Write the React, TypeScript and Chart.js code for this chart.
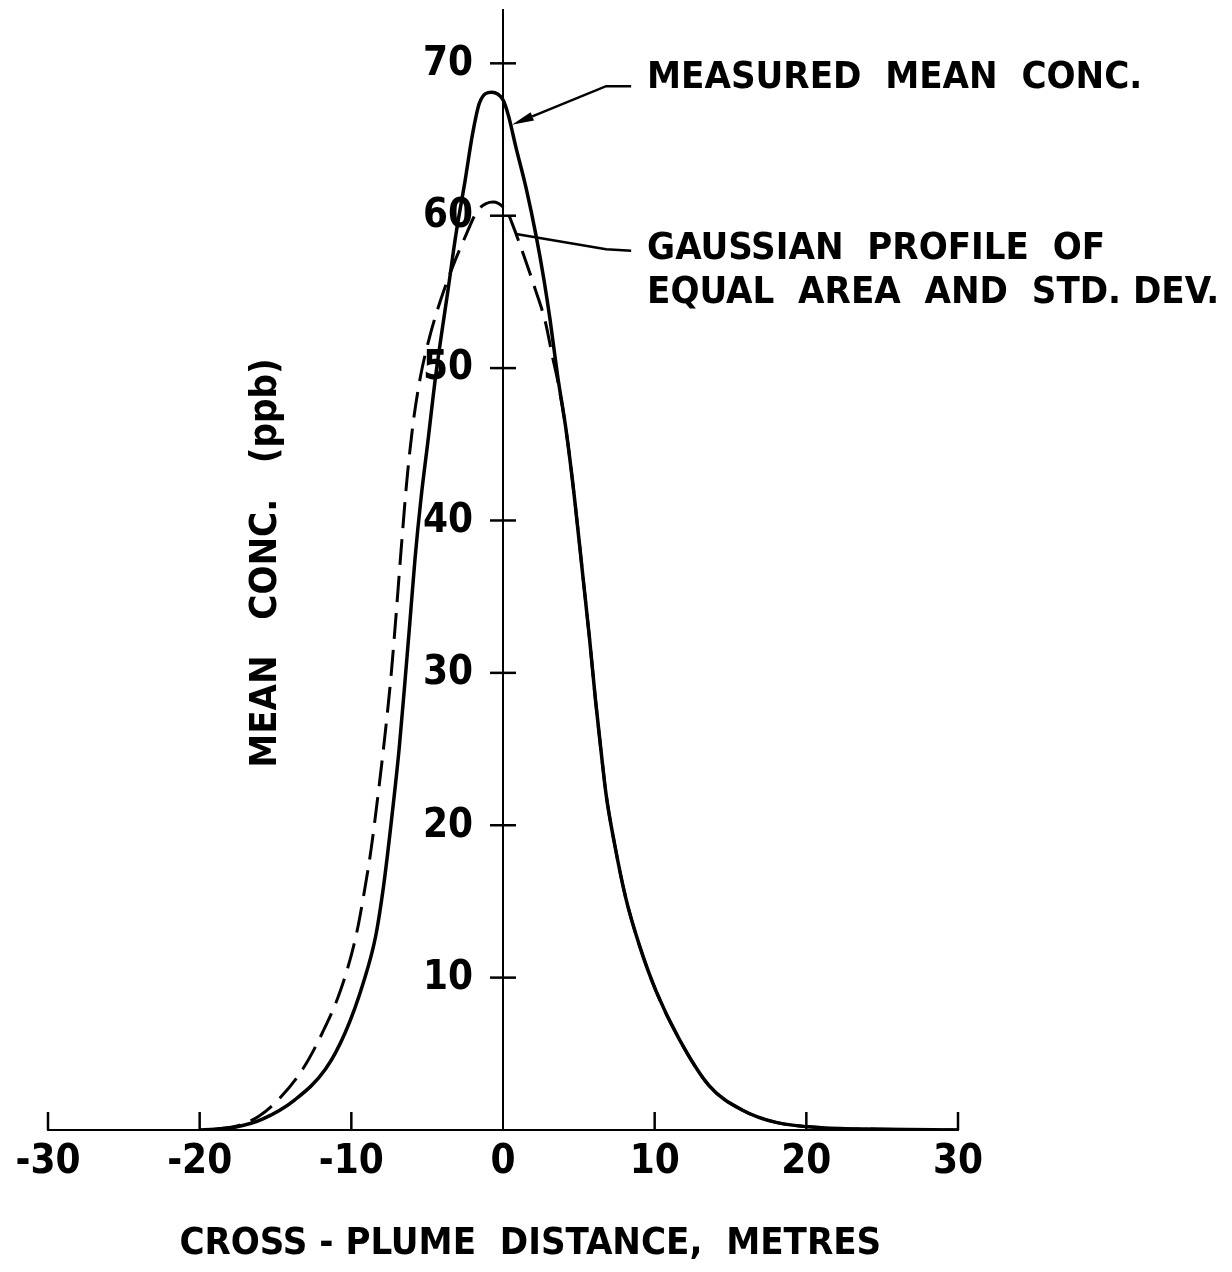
import React, { useEffect, useRef } from "react";
import { Chart, registerables } from "chart.js";

Chart.register(...registerables);

// ---- Data ----
const xTicks = [-30, -20, -10, 0, 10, 20, 30];
const yTicks = [10, 20, 30, 40, 50, 60, 70];

// Measured mean concentration (solid)
const measuredX = [-20, -19, -17.6, -15.9, -13.7, -11.7, -10.4, -9.2, -8.4, -7.85, -7.3, -6.85, -6.5, -6.15, -5.8, -5.4, -4.95, -4.45, -3.6, -3.1, -2.5, -2.0, -1.55, -0.75, 0.0, 0.35, 0.85, 1.55, 2.2, 2.7, 3.1, 3.6, 4.15, 4.7, 5.25, 5.7, 6.1, 6.45, 6.8, 7.35, 8.1, 9.0, 10.1, 11.6, 13.6, 15.8, 18.0, 21.0, 25.0, 30.0];
const measuredY = [0, 0.05, 0.2, 0.7, 2.0, 4.0, 6.4, 9.7, 12.7, 16.2, 20.8, 25.0, 29.0, 33.2, 37.5, 41.5, 45.2, 49.4, 55.3, 58.8, 62.3, 65.4, 67.4, 68.1, 67.6, 66.6, 64.5, 61.7, 58.6, 55.8, 53.2, 49.5, 46.0, 41.6, 36.5, 32.3, 28.2, 25.0, 22.0, 18.8, 15.2, 12.1, 9.1, 6.0, 2.9, 1.3, 0.5, 0.15, 0.05, 0];

// Gaussian profile of equal area and std. dev. (dashed)
const gaussX = [-19, -17.4, -16.1, -14.8, -13.2, -11.9, -10.7, -9.7, -9.15, -8.7, -8.3, -7.85, -7.4, -7.05, -6.7, -6.35, -5.95, -5.45, -4.85, -4.1, -3.3, -2.5, -1.7, -1.1, -0.65, 0.3, 0.6, 1.4, 2.15, 2.8, 3.25, 3.6, 4.15, 4.7, 5.25, 5.7, 6.1, 6.45, 6.8, 7.35, 8.1, 9.0, 10.1, 11.6, 13.6, 15.8, 18.0, 21.0, 25.0, 30.0];
const gaussY = [0.05, 0.3, 0.9, 2.0, 4.0, 6.4, 9.2, 12.7, 15.6, 18.4, 21.5, 25.3, 29.6, 33.8, 38.3, 42.5, 46.2, 49.4, 52.0, 54.5, 56.7, 58.6, 60.3, 60.8, 60.9, 60.2, 59.5, 57.3, 55.1, 53.0, 50.8, 49.2, 46.0, 41.6, 36.5, 32.3, 28.2, 25.0, 22.0, 18.8, 15.2, 12.1, 9.1, 6.0, 2.9, 1.3, 0.5, 0.15, 0.05, 0];

const xTitle = "CROSS - PLUME  DISTANCE,  METRES";
const yTitle = "MEAN   CONC.   (ppb)";
const noteMeasured = "MEASURED  MEAN  CONC.";
const noteGauss1 = "GAUSSIAN  PROFILE  OF";
const noteGauss2 = "EQUAL  AREA  AND  STD. DEV.";

const FAMILY = '"DejaVu Sans Condensed", "DejaVu Sans", sans-serif';
const TEXT_FONT = `bold 38px ${FAMILY}`;
const TICK_FONT = `bold 40px ${FAMILY}`;

const overlayPlugin = {
  id: "overlay",
  afterDraw(chart: any) {
    const { ctx, scales, chartArea } = chart;
    const xs = scales.x;
    const ys = scales.y;
    const X = (v: number) => xs.getPixelForValue(v);
    const Y = (v: number) => ys.getPixelForValue(v);
    ctx.save();
    ctx.strokeStyle = "#000";
    ctx.fillStyle = "#000";
    ctx.lineCap = "butt";

    // x-axis tick marks (pointing up)
    ctx.lineWidth = 2.5;
    const base = Y(0);
    xs.ticks.forEach((t: any) => {
      if (t.value === 0) return;
      const px = X(t.value);
      ctx.beginPath();
      ctx.moveTo(px, base);
      ctx.lineTo(px, base - 18);
      ctx.stroke();
    });
    // y-axis tick marks (crossing the axis) and their labels
    const ax = X(0);
    ctx.font = TICK_FONT;
    ctx.textAlign = "right";
    ctx.textBaseline = "middle";
    ys.ticks.forEach((t: any) => {
      if (!yTicks.includes(t.value)) return;
      const py = Y(t.value);
      ctx.beginPath();
      ctx.moveTo(ax - 13, py);
      ctx.lineTo(ax + 13, py);
      ctx.stroke();
      ctx.fillText(String(t.label), ax - 30, py + 1);
    });

    // axis titles
    ctx.font = TEXT_FONT;
    ctx.textAlign = "center";
    ctx.textBaseline = "middle";
    ctx.fillText(xTitle, X(1.8), chartArea.bottom + 114);
    ctx.save();
    ctx.translate(X(-15.6), Y(37.2));
    ctx.rotate(-Math.PI / 2);
    ctx.fillText(yTitle, 0, 0);
    ctx.restore();

    // annotations
    ctx.textAlign = "left";
    ctx.fillText(noteMeasured, X(9.5), Y(69.0));
    ctx.fillText(noteGauss1, X(9.5), Y(57.8));
    ctx.fillText(noteGauss2, X(9.5), Y(54.9));

    ctx.lineWidth = 2.5;
    // measured leader with arrow
    const tipX = X(0.59), tipY = Y(65.97);
    const elX = X(6.8), elY = Y(68.5);
    ctx.beginPath();
    ctx.moveTo(X(8.45), elY);
    ctx.lineTo(elX, elY);
    const ang = Math.atan2(tipY - elY, tipX - elX);
    const len = 22;
    const bx = tipX - Math.cos(ang) * len;
    const by = tipY - Math.sin(ang) * len;
    ctx.lineTo(bx, by);
    ctx.stroke();
    ctx.beginPath();
    ctx.moveTo(tipX, tipY);
    ctx.lineTo(bx + Math.sin(ang) * 4.5, by - Math.cos(ang) * 4.5);
    ctx.lineTo(bx - Math.sin(ang) * 4.5, by + Math.cos(ang) * 4.5);
    ctx.closePath();
    ctx.fill();

    // gaussian leader
    ctx.beginPath();
    ctx.moveTo(X(8.45), Y(57.7));
    ctx.lineTo(X(6.8), Y(57.8));
    ctx.lineTo(X(0.86), Y(58.8));
    ctx.stroke();

    ctx.restore();
  },
};

export default function App() {
  const ref = useRef<HTMLCanvasElement>(null);

  useEffect(() => {
    const canvas = ref.current;
    if (!canvas) return;
    const tickFont = { family: FAMILY, size: 40, weight: "bold" as const };
    const chart = new Chart(canvas, {
      type: "scatter",
      data: {
        datasets: [
          {
            label: "Measured mean conc.",
            data: measuredX.map((x, i) => ({ x, y: measuredY[i] })),
            showLine: true,
            borderColor: "#000",
            borderWidth: 3.5,
            pointRadius: 0,
            cubicInterpolationMode: "monotone",
          },
          {
            label: "Gaussian profile",
            data: gaussX.map((x, i) => ({ x, y: gaussY[i] })),
            showLine: true,
            borderColor: "#000",
            borderWidth: 3,
            borderDash: [26, 11],
            pointRadius: 0,
            cubicInterpolationMode: "monotone",
          },
        ],
      },
      options: {
        responsive: false,
        animation: false,
        events: [],
        layout: { padding: { left: 48, right: 274, top: 50, bottom: 76 } },
        plugins: {
          legend: { display: false },
          tooltip: { enabled: false },
        },
        scales: {
          x: {
            type: "linear",
            position: "bottom",
            min: -30,
            max: 30,
            afterBuildTicks: (s: any) => {
              s.ticks = xTicks.map((v) => ({ value: v }));
            },
            ticks: {
              autoSkip: false,
              maxRotation: 0,
              padding: 9,
              color: "#000",
              font: tickFont,
              callback: (v: any) => String(v),
            },
            grid: { display: true, drawOnChartArea: false, drawTicks: false },
            border: { display: true, color: "#000", width: 2 },
          },
          y: {
            type: "linear",
            position: { x: 0 },
            min: 0,
            max: 73.5,
            afterBuildTicks: (s: any) => {
              s.ticks = yTicks.map((v) => ({ value: v }));
            },
            ticks: {
              display: false,
              autoSkip: false,
              padding: 0,
              color: "#000",
              font: tickFont,
              callback: (v: any) => String(v),
            },
            grid: { display: true, drawOnChartArea: false, drawTicks: false },
            border: { display: true, color: "#000", width: 2 },
          },
        },
      },
      plugins: [overlayPlugin],
    } as any);
    return () => chart.destroy();
  }, []);

  return (
    <canvas
      ref={ref}
      width={1232}
      height={1312}
      style={{ position: "absolute", left: 0, top: -40, width: 1232, height: 1312, background: "#fff" }}
    />
  );
}
